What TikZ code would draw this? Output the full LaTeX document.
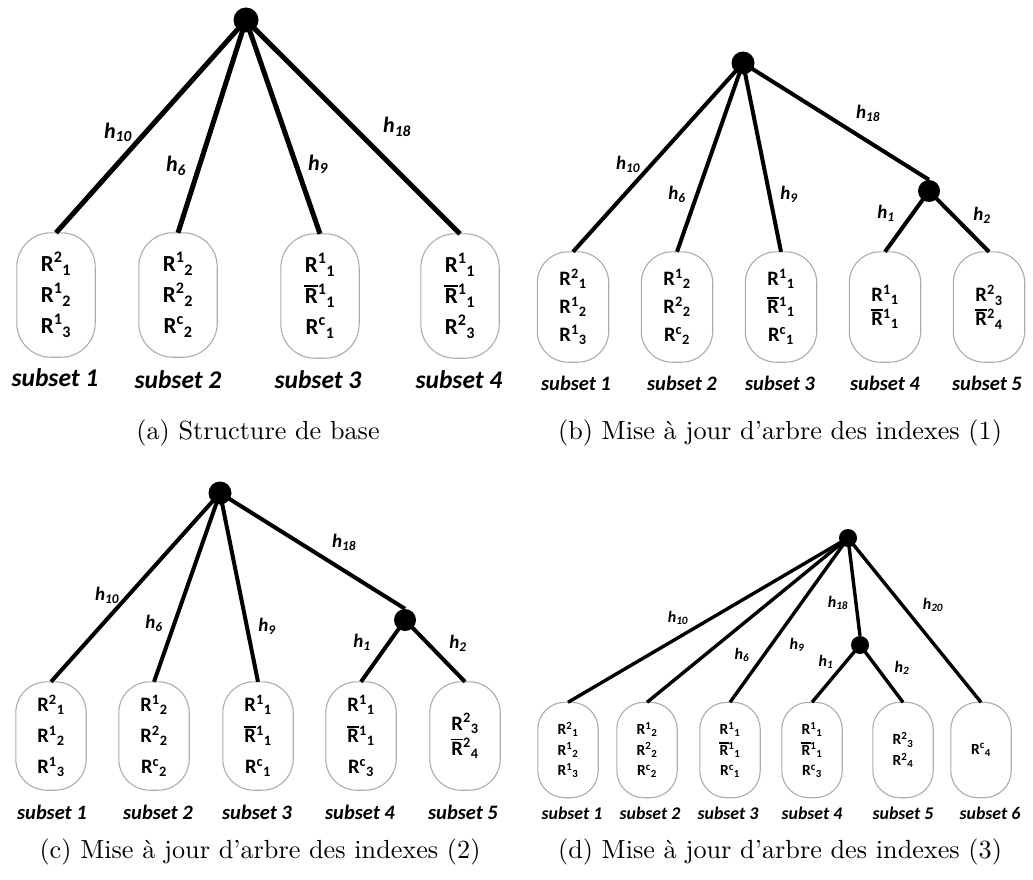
\documentclass[tikz,border=0pt]{standalone}
\usepackage{fontspec}
\newfontfamily\carl{Carlito}
\newfontfamily\capfont{lmroman10-regular}[Extension=.otf,Ligatures=TeX]
% R with a superscript and a subscript set one after the other
\newcommand\Rs[2]{R\textsuperscript{#1}\textsubscript{#2}}
% the same with a bar over the R
\newcommand\Rb[2]{\makebox[0pt][l]{\kern-0.04em\rule[0.74em]{0.62em}{0.075em}}R\textsuperscript{#1}\textsubscript{#2}}
% hash label h_i
\newcommand\hl[1]{h\textsubscript{#1}}
% outline of a subset: a tall box with strongly rounded ends, drawn round node #1 with corner radius #2
\newcommand\stadium[2]{%
  \draw[subsetline] ([yshift=-#2]#1.north west)
    arc[start angle=180,end angle=90,radius=#2] -- ([xshift=-#2]#1.north east)
    arc[start angle=90,end angle=0,radius=#2] -- ([yshift=#2]#1.south east)
    arc[start angle=0,end angle=-90,radius=#2] -- ([xshift=#2]#1.south west)
    arc[start angle=-90,end angle=-180,radius=#2] -- cycle;}
\begin{document}
\begin{tikzpicture}[x=1pt,y=-1pt,
  dot/.style={circle,fill=black,inner sep=0pt,minimum size=#1},
  subsetline/.style={draw=gray!65,line width=1.1pt},
  subsetbox/.style={inner sep=0pt,align=center},
  boxA/.style={subsetbox,minimum width=78pt,minimum height=124pt,
    font=\carl\bfseries\fontsize{23}{31}\selectfont},
  boxB/.style={subsetbox,minimum width=71pt,minimum height=110pt,
    font=\carl\bfseries\fontsize{20.5}{28}\selectfont},
  boxC/.style={subsetbox,minimum width=70pt,minimum height=108pt,
    font=\carl\bfseries\fontsize{20.5}{31}\selectfont},
  boxD/.style={subsetbox,minimum width=60pt,minimum height=95pt,
    font=\carl\bfseries\fontsize{15.5}{20.5}\selectfont},
  branchA/.style={line width=5pt},
  branchB/.style={line width=4pt},
  branchD/.style={line width=3.4pt},
  hlabA/.style={font=\carl\bfseries\itshape\fontsize{22}{24}\selectfont},
  hlabB/.style={font=\carl\bfseries\itshape\fontsize{19}{22}\selectfont},
  hlabD/.style={font=\carl\bfseries\itshape\fontsize{16}{18}\selectfont},
  subA/.style={font=\carl\bfseries\itshape\fontsize{25.5}{27}\selectfont},
  subB/.style={font=\carl\bfseries\itshape\fontsize{20.5}{22}\selectfont},
  subD/.style={font=\carl\bfseries\itshape\fontsize{17.8}{19}\selectfont},
  caption/.style={font=\capfont\fontsize{26.2}{30}\selectfont}
]
\useasboundingbox (0,0) rectangle (1033,880);

% ---------------- (a) Structure de base ----------------
\node[dot=25pt] (ra) at (246,20) {};
\node[boxA] (a1) at (56,295)  {\Rs21\\\Rs12\\\Rs13};
\node[boxA] (a2) at (178,295) {\Rs12\\\Rs22\\\Rs c2};
\node[boxA] (a3) at (320,296) {\Rs11\\\Rb11\\\Rs c1};
\node[boxA] (a4) at (460,296) {\Rs11\\\Rb11\\\Rs23};
\foreach \b in {a1,a2,a3,a4} {\stadium{\b}{34pt}}
\foreach \b in {a1,a2,a3,a4} \draw[branchA] (ra.center) -- (\b.north);
\node[hlabA] (la1) at (118,132) {\hl{10}};
\node[hlabA] (la2) at (176,166) {\hl{6}};
\node[hlabA] (la3) at (318,164) {\hl{9}};
\node[hlabA] (la4) at (397,127) {\hl{18}};
\node[subA] (sa1) at (55,378)  {subset 1};
\node[subA] (sa2) at (178,380) {subset 2};
\node[subA] (sa3) at (318,380) {subset 3};
\node[subA] (sa4) at (459,380) {subset 4};
\node[caption] (capa) at (258,433) {(a) Structure de base};

% ---------------- (b) first update ----------------
\node[dot=23pt] (rb) at (743,63) {};
\node[dot=22pt] (sb) at (929,191) {};
\node[boxB] (b1) at (573,307) {\Rs21\\\Rs12\\\Rs13};
\node[boxB] (b2) at (677,307) {\Rs12\\\Rs22\\\Rs c2};
\node[boxB] (b3) at (781,307) {\Rs11\\\Rb11\\\Rs c1};
\node[boxB] (b4) at (885,307) {\Rs11\\[-4pt]\Rb11};
\node[boxB] (b5) at (989,307) {\Rs23\\[-4pt]\Rb24};
\foreach \b in {b1,b2,b3,b4,b5} {\stadium{\b}{31pt}}
\foreach \b in {b1,b2,b3,sb} \draw[branchB] (rb.center) -- (\b.north);
\foreach \b in {b4,b5} \draw[branchB] (sb.center) -- (\b.north);
\node[hlabB] (lb1) at (628,164) {\hl{10}};
\node[hlabB] (lb2) at (677,194) {\hl{6}};
\node[hlabB] (lb3) at (789,194) {\hl{9}};
\node[hlabB] (lb4) at (868,113) {\hl{18}};
\node[hlabB] (lb5) at (886,213) {\hl{1}};
\node[hlabB] (lb6) at (982,215) {\hl{2}};
\node[subB] (sb1) at (576,383) {subset 1};
\node[subB] (sb2) at (682,383) {subset 2};
\node[subB] (sb3) at (780,383) {subset 3};
\node[subB] (sb4) at (885,383) {subset 4};
\node[subB] (sb5) at (987,383) {subset 5};
\node[caption] (capb) at (780,433) {(b) Mise à jour d'arbre des indexes (1)};

% ---------------- (c) second update ----------------
\node[dot=23pt] (rc) at (220,493) {};
\node[dot=22pt] (sc) at (405,620) {};
\node[boxC] (c1) at (51,736)  {\Rs21\\\Rs12\\\Rs13};
\node[boxC] (c2) at (154,736) {\Rs12\\\Rs22\\\Rs c2};
\node[boxC] (c3) at (258,736) {\Rs11\\\Rb11\\\Rs c1};
\node[boxC] (c4) at (361,736) {\Rs11\\\Rb11\\\Rs c3};
\node[boxC] (c5) at (465,736) {\raisebox{-2pt}{\Rs23}\\[-6pt]\raisebox{-2pt}{\Rb24}};
\foreach \b in {c1,c2,c3,c4,c5} {\stadium{\b}{31pt}}
\foreach \b in {c1,c2,c3,sc} \draw[branchB] (rc.center) -- (\b.north);
\foreach \b in {c4,c5} \draw[branchB] (sc.center) -- (\b.north);
\node[hlabB] (lc1) at (107,595) {\hl{10}};
\node[hlabB] (lc2) at (154,623) {\hl{6}};
\node[hlabB] (lc3) at (267,626) {\hl{9}};
\node[hlabB] (lc4) at (344,542) {\hl{18}};
\node[hlabB] (lc5) at (362,642) {\hl{1}};
\node[hlabB] (lc6) at (458,643) {\hl{2}};
\node[subB] (sc1) at (52,812)  {subset 1};
\node[subB] (sc2) at (158,812) {subset 2};
\node[subB] (sc3) at (257,812) {subset 3};
\node[subB] (sc4) at (360,812) {subset 4};
\node[subB] (sc5) at (463,812) {subset 5};
\node[caption] (capc) at (260,852) {(c) Mise à jour d'arbre des indexes (2)};

% ---------------- (d) third update ----------------
\node[dot=18pt] (rd) at (848,538) {};
\node[dot=18pt] (sd) at (860,645) {};
\node[boxD] (d1) at (568,750) {\Rs21\\\Rs12\\\Rs13};
\node[boxD] (d2) at (647,750) {\Rs12\\\Rs22\\\Rs c2};
\node[boxD] (d3) at (730,750) {\Rs11\\\Rb11\\\Rs c1};
\node[boxD] (d4) at (812,750) {\Rs11\\\Rb11\\\Rs c3};
\node[boxD] (d5) at (903,750) {\Rs23\\\Rs24};
\node[boxD] (d6) at (981,750) {\Rs c4};
\foreach \b in {d1,d2,d3,d4,d5,d6} {\stadium{\b}{27pt}}
\foreach \b in {d1,d2,d3,sd,d6} \draw[branchD] (rd.center) -- (\b.north);
\foreach \b in {d4,d5} \draw[branchD] (sd.center) -- (\b.north);
\node[hlabD] (ld1) at (678,618) {\hl{10}};
\node[hlabD] (ld2) at (742,655) {\hl{6}};
\node[hlabD] (ld3) at (797,645) {\hl{9}};
\node[hlabD] (ld4) at (838,603) {\hl{18}};
\node[hlabD] (ld5) at (933,605) {\hl{20}};
\node[hlabD] (ld6) at (826,662) {\hl{1}};
\node[hlabD] (ld7) at (902,668) {\hl{2}};
\node[subD] (sd1) at (572,813) {subset 1};
\node[subD] (sd2) at (650,813) {subset 2};
\node[subD] (sd3) at (728,813) {subset 3};
\node[subD] (sd4) at (812,813) {subset 4};
\node[subD] (sd5) at (903,813) {subset 5};
\node[subD] (sd6) at (990,813) {subset 6};
\node[caption] (capd) at (780,852) {(d) Mise à jour d'arbre des indexes (3)};
\end{tikzpicture}
\end{document}
